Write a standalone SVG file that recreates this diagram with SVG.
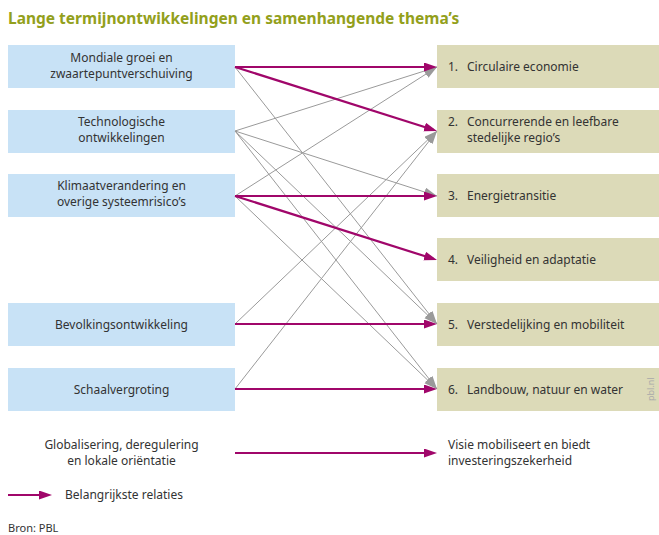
<svg xmlns="http://www.w3.org/2000/svg" width="659" height="535" viewBox="0 0 659 535">
<style>
text{font-family:"Noto Sans","Open Sans",sans-serif;font-size:12px;fill:#333}
.title{font-size:15.5px;font-weight:bold;fill:#93a01c}
.lb{fill:#c8e2f6}
.rb{fill:#dcdab8}
.c{text-anchor:middle}
.g{stroke:#9a9a9a;stroke-width:1;fill:none;marker-end:url(#ag)}
.m{stroke:#a0066a;stroke-width:2.2;fill:none;marker-end:url(#am)}
.src{font-size:11px}
.pbl{font-size:9px;fill:#aaa}
</style>
<defs>
<marker id="am" markerUnits="userSpaceOnUse" markerWidth="14" markerHeight="10" refX="9" refY="4.5" orient="auto" viewBox="0 0 14 10"><path d="M0,0 L13,4.5 L0,9 z" fill="#a0066a"/></marker>
<marker id="ag" markerUnits="userSpaceOnUse" markerWidth="14" markerHeight="10" refX="13" refY="4.5" orient="auto" viewBox="0 0 14 10"><path d="M0,0 L13,4.5 L0,9 z" fill="#9a9a9a"/></marker>
</defs>
<rect width="659" height="535" fill="#fff"/>
<text class="title" x="8" y="24">Lange termijnontwikkelingen en samenhangende thema’s</text>

<g id="l1"><rect class="lb" x="8" y="45" width="227" height="43"/><text class="c" x="121.5" y="62">Mondiale groei en</text><text class="c" x="121.5" y="78">zwaartepuntverschuiving</text></g>
<g id="l2"><rect class="lb" x="8" y="110" width="227" height="43"/><text class="c" x="121.5" y="126">Technologische</text><text class="c" x="121.5" y="142">ontwikkelingen</text></g>
<g id="l3"><rect class="lb" x="8" y="174" width="227" height="43"/><text class="c" x="121.5" y="190">Klimaatverandering en</text><text class="c" x="121.5" y="206">overige systeemrisico’s</text></g>
<g id="l4"><rect class="lb" x="8" y="303" width="227" height="43"/><text class="c" x="121.5" y="329">Bevolkingsontwikkeling</text></g>
<g id="l5"><rect class="lb" x="8" y="368" width="227" height="43"/><text class="c" x="121.5" y="394">Schaalvergroting</text></g>

<g id="r1"><rect class="rb" x="437" y="45" width="222" height="43"/><text x="448" y="71">1.</text><text x="467" y="71">Circulaire economie</text></g>
<g id="r2"><rect class="rb" x="437" y="110" width="222" height="43"/><text x="448" y="126">2.</text><text x="467" y="126">Concurrerende en leefbare</text><text x="467" y="142">stedelijke regio’s</text></g>
<g id="r3"><rect class="rb" x="437" y="174" width="222" height="43"/><text x="448" y="200">3.</text><text x="467" y="200">Energietransitie</text></g>
<g id="r4"><rect class="rb" x="437" y="238" width="222" height="43"/><text x="448" y="264">4.</text><text x="467" y="264">Veiligheid en adaptatie</text></g>
<g id="r5"><rect class="rb" x="437" y="303" width="222" height="43"/><text x="448" y="329">5.</text><text x="467" y="329">Verstedelijking en mobiliteit</text></g>
<g id="r6"><rect class="rb" x="437" y="368" width="222" height="43"/><text x="448" y="394">6.</text><text x="467" y="394">Landbouw, natuur en water</text><text class="pbl" transform="translate(654,401) rotate(-90)">pbl.nl</text></g>

<g id="connectors">
<path class="g" d="M235,67 L437,324"/>
<path class="g" d="M235,131 L437,67"/>
<path class="g" d="M235,131 L437,196"/>
<path class="g" d="M235,131 L437,324"/>
<path class="g" d="M235,131 L437,389"/>
<path class="g" d="M235,196 L437,67"/>
<path class="g" d="M235,196 L437,389"/>
<path class="g" d="M235,324 L437,131"/>
<path class="g" d="M235,389 L437,131"/>
<path class="m" d="M235,67 L433,67"/>
<path class="m" d="M235,67 L433.2,129.8"/>
<path class="m" d="M235,196 L433,196"/>
<path class="m" d="M235,196 L433.2,258.8"/>
<path class="m" d="M235,324 L433,324"/>
<path class="m" d="M235,389 L433,389"/>
<path class="m" d="M235,453 L433,453"/>
<path class="m" d="M8,495 L48,495"/>
</g>

<g id="bottom">
<text class="c" x="121.5" y="449">Globalisering, deregulering</text>
<text class="c" x="121.5" y="465">en lokale oriëntatie</text>
<text x="448" y="449">Visie mobiliseert en biedt</text>
<text x="448" y="465">investeringszekerheid</text>
</g>
<g id="legend"><text x="65" y="499">Belangrijkste relaties</text></g>
<text class="src" x="8" y="532">Bron: PBL</text>
</svg>
